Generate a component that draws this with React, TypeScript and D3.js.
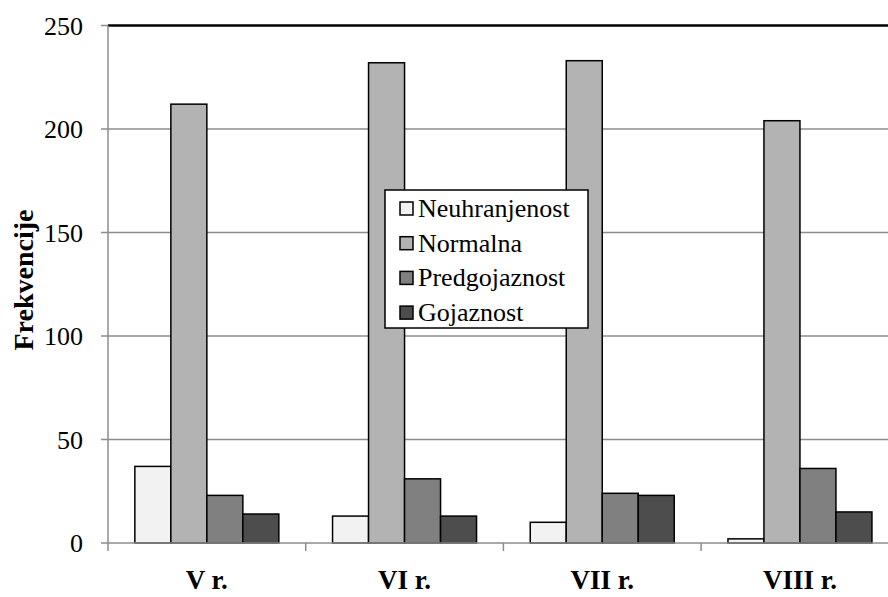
import React from "react";
import * as d3 from "d3";

const categories = ["V r.", "VI r.", "VII r.", "VIII r."];
const seriesNames = ["Neuhranjenost", "Normalna", "Predgojaznost", "Gojaznost"];
const neuhranjenost = [37, 13, 10, 2];
const normalna = [212, 232, 233, 204];
const predgojaznost = [23, 31, 24, 36];
const gojaznost = [14, 13, 23, 15];
const yTicks = [0, 50, 100, 150, 200, 250];
const colors = ["#f2f2f2", "#b3b3b3", "#808080", "#4d4d4d"];

const seriesValues = [neuhranjenost, normalna, predgojaznost, gojaznost];

export default function App() {
  const W = 888, H = 597;
  const left = 108, top = 25.5, bottom = 543;
  const band = 197.7;
  const right = left + band * 4;
  const x = d3.scaleBand<string>().domain(categories).range([left, right]).paddingInner(0).paddingOuter(0);
  const inner = d3.scaleBand<string>().domain(seriesNames).range([0, band]).paddingOuter(0.746).paddingInner(0);
  const y = d3.scaleLinear().domain([0, 250]).range([bottom, top]);
  const font = "Liberation Serif, Tinos, DejaVu Serif, serif";
  return (
    <svg width={W} height={H} style={{ position: "absolute", left: 0, top: 0 }}>
      <rect width={W} height={H} fill="#fff" />
      {yTicks.filter(t => t > 0 && t < 250).map(t => (
        <line key={t} x1={left} x2={W} y1={y(t)} y2={y(t)} stroke="#8c8c8c" strokeWidth={1.5} />
      ))}
      <line x1={left} x2={W} y1={y(250)} y2={y(250)} stroke="#000" strokeWidth={2.5} />
      {yTicks.map(t => (
        <g key={t}>
          <line x1={left - 7} x2={left} y1={y(t)} y2={y(t)} stroke="#8c8c8c" strokeWidth={1.5} />
          <text x={83} y={y(t) + 9} textAnchor="end" fontFamily={font} fontSize={26}>{t}</text>
        </g>
      ))}
      {categories.map((c, ci) => (
        <g key={c}>
          {seriesNames.map((s, si) => (
            <rect key={s} x={(x(c) as number) + (inner(s) as number)} width={inner.bandwidth()}
              y={y(seriesValues[si][ci])} height={bottom - y(seriesValues[si][ci])}
              fill={colors[si]} stroke="#000" strokeWidth={1.5} />
          ))}
        </g>
      ))}
      <line x1={left} x2={W} y1={bottom} y2={bottom} stroke="#8c8c8c" strokeWidth={1.5} />
      <line x1={left} x2={left} y1={top} y2={bottom} stroke="#8c8c8c" strokeWidth={1.5} />
      {categories.map((c) => (
        <line key={c} x1={x(c) as number} x2={x(c) as number} y1={bottom} y2={bottom + 8} stroke="#8c8c8c" strokeWidth={1.5} />
      ))}
      {categories.map(c => (
        <text key={c} x={(x(c) as number) + band / 2} y={589} textAnchor="middle" fontFamily={font} fontWeight="bold" fontSize={27}>{c}</text>
      ))}
      <text transform={`translate(33,${280}) rotate(-90)`} textAnchor="middle" fontFamily={font} fontWeight="bold" fontSize={28}>Frekvencije</text>
      <g>
        <rect x={385} y={190} width={203} height={138} fill="#fff" stroke="#000" strokeWidth={1.5} />
        {seriesNames.map((s, i) => (
          <g key={s}>
            <rect x={400} y={202 + i * 34.7} width={13} height={13} fill={colors[i]} stroke="#000" strokeWidth={1.5} />
            <text x={418} y={217 + i * 34.7} fontFamily={font} fontSize={26}>{s}</text>
          </g>
        ))}
      </g>
    </svg>
  );
}
